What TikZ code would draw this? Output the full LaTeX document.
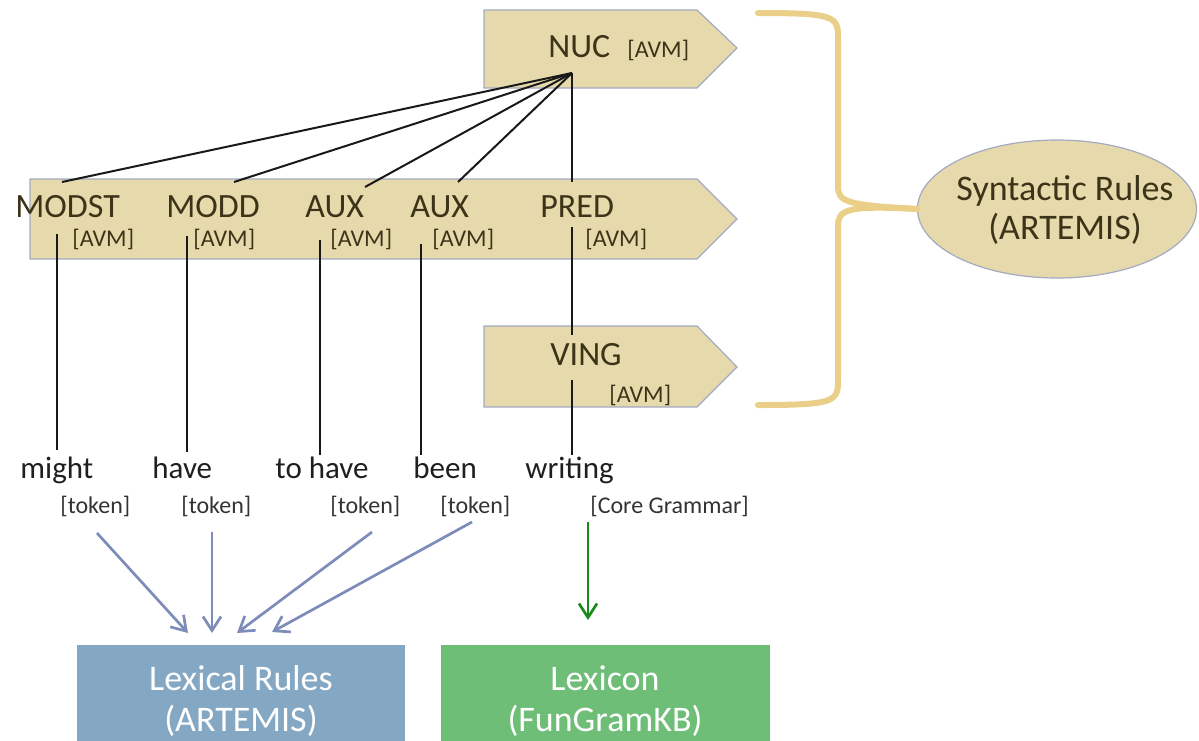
\documentclass[tikz,border=0pt]{standalone}
\usepackage{fontspec}
\setmainfont{Carlito}
\usetikzlibrary{arrows.meta,shapes.geometric}
\definecolor{boxtan}{HTML}{E6D9AC}
\definecolor{boxedge}{HTML}{A3AAC2}
\definecolor{olivetext}{HTML}{3C3418}
\definecolor{bracecol}{HTML}{E9CF87}
\definecolor{arrowblue}{HTML}{7D8CB8}
\definecolor{lexblue}{HTML}{84A8C4}
\definecolor{lexgreen}{HTML}{6FBE78}
\definecolor{arrowgreen}{HTML}{1A8A1A}
\tikzset{
  signalbox/.style={fill=boxtan, draw=boxedge, line width=0.6pt},
  lab/.style={anchor=base west, inner sep=0pt, text=olivetext, font=\fontsize{17}{20}\selectfont},
  avm/.style={anchor=base west, inner sep=0pt, text=olivetext, font=\fontsize{12}{14}\selectfont},
  word/.style={anchor=base west, inner sep=0pt, text=black!88, font=\fontsize{15.5}{18}\selectfont},
  tok/.style={anchor=base west, inner sep=0pt, text=black!80, font=\fontsize{12}{14}\selectfont},
  tree/.style={line width=1pt, black!90},
  lexarrow/.style={line width=1.35pt, arrowblue, -{Straight Barb[length=7pt,width=9pt,line width=1.35pt]}},
  grarrow/.style={line width=1.35pt, arrowgreen, -{Straight Barb[length=7pt,width=9pt,line width=1.35pt]}},
  bigtext/.style={anchor=base, inner sep=0pt, font=\fontsize{18}{21}\selectfont},
  bracestyle/.style={line width=3pt, bracecol, line cap=round}
}
\begin{document}
\begin{tikzpicture}[x=0.5pt,y=-0.5pt]
\useasboundingbox (0,0) rectangle (1199,740);

% signal boxes
\draw[signalbox] (484,10) -- (697,10) -- (737,48) -- (697,88) -- (484,88) -- cycle;
\draw[signalbox] (30,179) -- (697,179) -- (737,219) -- (697,259) -- (30,259) -- cycle;
\draw[signalbox] (484,326) -- (697,326) -- (737,367) -- (697,407) -- (484,407) -- cycle;

% labels
\node[lab] (nuc) at (548,57) {NUC};
\node[avm] (nucavm) at (627,57) {[AVM]};
\node[lab] (modst) at (15,217) {MODST};
\node[lab] (modd) at (166,217) {MODD};
\node[lab] (aux1) at (305,217) {AUX};
\node[lab] (aux2) at (410,217) {AUX};
\node[lab] (pred) at (540,217) {PRED};
\node[avm] (a1) at (72,246) {[AVM]};
\node[avm] (a2) at (193,246) {[AVM]};
\node[avm] (a3) at (330,246) {[AVM]};
\node[avm] (a4) at (432,246) {[AVM]};
\node[avm] (a5) at (585,246) {[AVM]};
\node[lab] (ving) at (550,365) {VING};
\node[avm] (vingavm) at (609,402) {[AVM]};

% words
\node[word] (w1) at (20,478) {might};
\node[word] (w2) at (152,478) {have};
\node[word] (w3) at (275,478) {to have};
\node[word] (w4) at (413,478) {been};
\node[word] (w5) at (525,478) {writing};
\node[tok] (t1) at (60,513) {[token]};
\node[tok] (t2) at (181,513) {[token]};
\node[tok] (t3) at (330,513) {[token]};
\node[tok] (t4) at (440,513) {[token]};
\node[tok] (t5) at (590,513) {[Core Grammar]};

% tree coordinates
\coordinate (root) at (572,73);
\coordinate (c1) at (62,182);
\coordinate (c2) at (234,182);
\coordinate (c3) at (365,187);
\coordinate (c4) at (458,182);
\coordinate (c5) at (572,182);
\draw[tree] (root) -- (c1);
\draw[tree] (root) -- (c2);
\draw[tree] (root) -- (c3);
\draw[tree] (root) -- (c4);
\draw[tree] (root) -- (c5);

\coordinate (v1a) at (57,234); \coordinate (v1b) at (57,450);
\coordinate (v2a) at (187,236); \coordinate (v2b) at (187,452);
\coordinate (v3a) at (320,240); \coordinate (v3b) at (320,455);
\coordinate (v4a) at (421,244); \coordinate (v4b) at (421,455);
\coordinate (v5a) at (572,227); \coordinate (v5b) at (572,335);
\coordinate (v6a) at (572,380); \coordinate (v6b) at (572,455);
\draw[tree] (v1a) -- (v1b);
\draw[tree] (v2a) -- (v2b);
\draw[tree] (v3a) -- (v3b);
\draw[tree] (v4a) -- (v4b);
\draw[tree] (v5a) -- (v5b);
\draw[tree] (v6a) -- (v6b);

% bottom boxes
\node[fill=lexblue, inner sep=0pt, minimum width=164pt, minimum height=48pt, anchor=north west] (lex) at (77,645) {};
\node[fill=lexgreen, inner sep=0pt, minimum width=164.5pt, minimum height=48pt, anchor=north west] (lexicon) at (441,645) {};
\node[bigtext, text=white] (lexr1) at (241,690) {Lexical Rules};
\node[bigtext, text=white] (lexr2) at (241,731) {(ARTEMIS)};
\node[bigtext, text=white] (lexi1) at (605,690) {Lexicon};
\node[bigtext, text=white] (lexi2) at (605,731) {(FunGramKB)};

% arrows
\coordinate (s1) at (97,533); \coordinate (e1) at (188,633);
\coordinate (s2) at (212,532); \coordinate (e2) at (212,633);
\coordinate (s3) at (372,532); \coordinate (e3) at (237,633);
\coordinate (s4) at (472,522); \coordinate (e4) at (272,632);
\coordinate (s5) at (588,522); \coordinate (e5) at (588,620);
\draw[lexarrow] (s1) -- (e1);
\draw[lexarrow] (s2) -- (e2);
\draw[lexarrow] (s3) -- (e3);
\draw[lexarrow] (s4) -- (e4);
\draw[grarrow] (s5) -- (e5);

% ellipse
\node[ellipse, draw=boxedge, fill=boxtan, line width=0.6pt, minimum width=139.5pt, minimum height=69pt, inner sep=0pt] (syn) at (1057,209) {};
\node[bigtext, text=olivetext] (syn1) at (1065,200) {Syntactic Rules};
\node[bigtext, text=olivetext] (syn2) at (1065,239) {(ARTEMIS)};

% brace
\coordinate (bt) at (758,13);
\coordinate (bb) at (758,405);
\draw[bracestyle] (bt) .. controls (832,13) and (838,16) .. (838,36) -- (838,186)
  .. controls (838,202) and (846,205) .. (syn.west);
\draw[bracestyle] (bb) .. controls (832,405) and (838,402) .. (838,382) -- (838,226)
  .. controls (838,210) and (846,205) .. (syn.west);
\end{tikzpicture}
\end{document}
